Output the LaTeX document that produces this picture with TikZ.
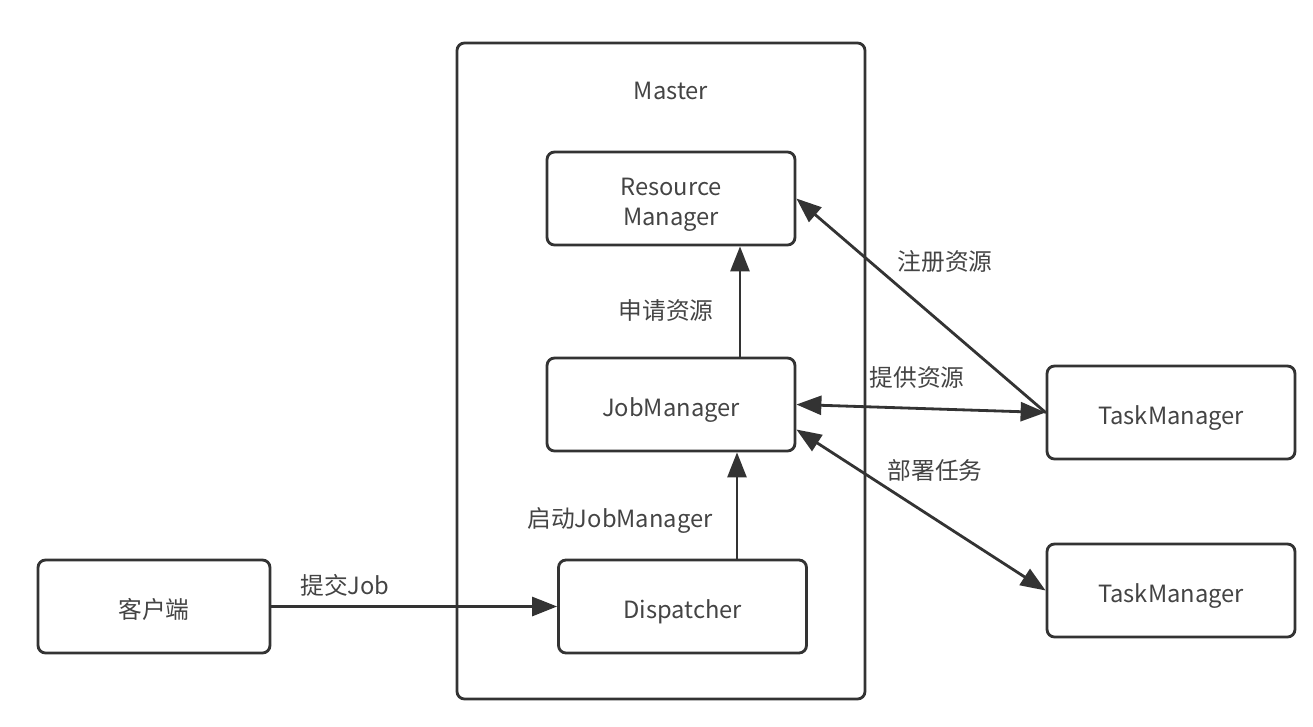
\documentclass[tikz,border=0pt]{standalone}
\usepackage{fontspec}
\newfontfamily\cjk{Noto Sans CJK SC}
\usepackage{tikz}
\usetikzlibrary{arrows.meta}
\definecolor{linegray}{HTML}{333333}
\definecolor{textgray}{HTML}{444444}

\begin{document}
\begin{tikzpicture}[x=0.02cm,y=-0.02cm,>={Triangle[length=5mm,width=3.8mm]},
  font=\cjk\fontsize{13.5}{17}\selectfont,line cap=round,
  box/.style={draw=linegray,line width=1.6pt,rounded corners=0.15cm,text=textgray,
    minimum width=4.96cm,minimum height=1.86cm,align=center,text height=14pt,text depth=0pt},
  lbl/.style={text=textgray,inner sep=0pt},
  conn/.style={draw=linegray,line width=1.6pt}]
\useasboundingbox (0,0) rectangle (1313,727);
% Master
\draw[linegray,line width=1.6pt,rounded corners=0.15cm] (457,43) rectangle (865,699);
\node[lbl] (master) at (671,91) {Master};
% boxes
\node[box,text height=31pt] (rm) at (671,198.5) {Resource\\Manager};
\node[box] (jm) at (671,404.5) {JobManager};
\node[box] (disp) at (682.5,606.5) {Dispatcher};
\node[box,minimum width=4.64cm] (client) at (154,606.5) {客户端};
\node[box] (tma) at (1171,412.5) {TaskManager};
\node[box] (tmb) at (1171,590.5) {TaskManager};
% arrows
\draw[conn,->] ([xshift=1.38cm]jm.north) -- ([xshift=1.38cm]rm.south);
\node[lbl] (apply) at (666,311) {申请资源};
\draw[conn,->] ([xshift=1.09cm]disp.north) -- ([xshift=1.09cm]disp.north |- jm.south);
\node[lbl] (start) at (620,520) {启动JobManager};
\draw[conn,->] (client.east) -- (disp.west);
\node[lbl] (submit) at (345,585) {提交Job};
\draw[conn,->] (tma.west) -- (rm.east);
\node[lbl] (register) at (945,262) {注册资源};
\draw[conn,<->] (jm.east) -- (tma.west);
\node[lbl] (offer) at (917,378) {提供资源};
\draw[conn,<->] ([yshift=-0.5cm]jm.east) -- (tmb.west);
\node[lbl] (deploy) at (935,470) {部署任务};
\end{tikzpicture}
\end{document}
